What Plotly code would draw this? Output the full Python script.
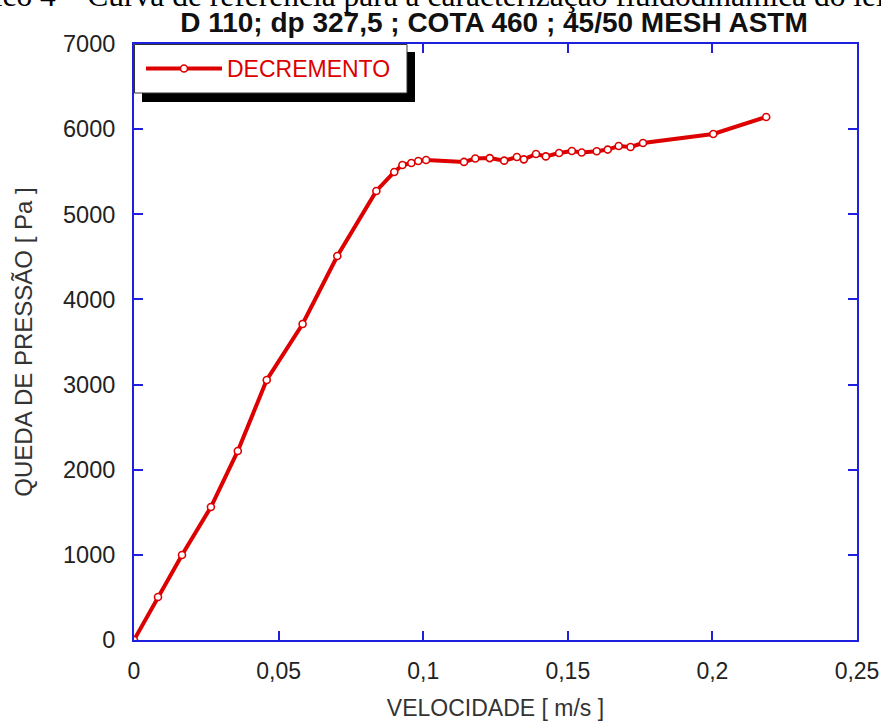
import plotly.graph_objects as go

# ---- data ----
velocidade = [0.0, 0.0083, 0.0166, 0.0266, 0.0359, 0.0459, 0.0583, 0.0703, 0.0838,
              0.0900, 0.0928, 0.0959, 0.0983, 0.1010, 0.1141, 0.1180, 0.1230, 0.1280,
              0.1324, 0.1348, 0.1390, 0.1424, 0.1470, 0.1514, 0.1548, 0.1600, 0.1638,
              0.1676, 0.1717, 0.1760, 0.2003, 0.2186]
queda_pressao = [0, 505, 998, 1562, 2220, 3054, 3711, 4510, 5274,
                 5497, 5579, 5603, 5626, 5638, 5615, 5655, 5660, 5630,
                 5673, 5645, 5708, 5680, 5720, 5743, 5725, 5740, 5760,
                 5802, 5790, 5837, 5943, 6143]
serie_nome = "DECREMENTO"
x_ticks = [0, 0.05, 0.1, 0.15, 0.2, 0.25]
y_ticks = [0, 1000, 2000, 3000, 4000, 5000, 6000, 7000]

RED = "#DD0000"
BLUE = "#1F1FE0"

W, H = 881, 724
L, R, T, B = 134, 24, 44, 84
PW, PH = W - L - R, H - T - B


def px_x(p):
    return (p - L) / PW


def px_y(p):
    return (H - B - p) / PH


fig = go.Figure()
fig.add_trace(go.Scatter(
    x=velocidade, y=queda_pressao, name=serie_nome,
    mode="lines+markers",
    line=dict(color=RED, width=4),
    marker=dict(symbol="circle", size=7, color="white",
                line=dict(color=RED, width=1.6)),
))

fig.update_layout(
    width=W, height=H,
    margin=dict(l=L, r=R, t=T, b=B, autoexpand=False),
    paper_bgcolor="white", plot_bgcolor="white",
    separators=",.",
    font=dict(family="Liberation Sans, Arial, sans-serif", color="#222222"),
    showlegend=True,
    legend=dict(x=px_x(141), y=px_y(47), xanchor="left", yanchor="top",
                bgcolor="rgba(0,0,0,0)", borderwidth=0,
                font=dict(size=23, color=RED), itemwidth=76,
                tracegroupgap=0),
    title=dict(text="<b>D 110; dp 327,5 ; COTA 460 ; 45/50 MESH ASTM</b>",
               x=494 / W, xanchor="center",
               y=1 - 22 / H, yanchor="middle",
               font=dict(size=28, color="#111111",
                         family="Liberation Sans, Arial, sans-serif")),
    xaxis=dict(range=[0, 0.25], tickvals=x_ticks,
               showline=True, linecolor=BLUE, linewidth=2, mirror="ticks",
               ticks="inside", ticklen=9, tickwidth=1.5, tickcolor=BLUE,
               showgrid=False, zeroline=False,
               tickfont=dict(size=23, color="#222222"),
               ticklabelstandoff=9,
               title=dict(text="VELOCIDADE [ m/s ]", standoff=17,
                          font=dict(size=23, color="#333333"))),
    yaxis=dict(range=[0, 7000], tickvals=y_ticks, tickformat="d",
               showline=True, linecolor=BLUE, linewidth=2, mirror="ticks",
               ticks="inside", ticklen=9, tickwidth=1.5, tickcolor=BLUE,
               showgrid=False, zeroline=False,
               tickfont=dict(size=23.5, color="#222222"),
               ticklabelstandoff=12,
               title=dict(text="QUEDA DE PRESSÃO [ Pa ]", standoff=24,
                          font=dict(size=24, color="#333333"))),
)

# legend box with drop shadow
fig.add_shape(type="rect", xref="paper", yref="paper", layer="above",
              x0=px_x(142), x1=px_x(415), y0=px_y(102), y1=px_y(52),
              fillcolor="black", line=dict(width=0))
fig.add_shape(type="rect", xref="paper", yref="paper", layer="above",
              x0=px_x(134.5), x1=px_x(407), y0=px_y(93), y1=px_y(44.5),
              fillcolor="white", line=dict(color="#333333", width=1))

# clipped caption of the source document at the very top
fig.add_annotation(text="Gráfico 4 – Curva de referência para a caracterização fluidodinâmica do leito",
                   xref="paper", yref="paper", x=px_x(-66), xanchor="left",
                   y=px_y(-4), yanchor="middle", showarrow=False,
                   font=dict(family="Liberation Serif, Times New Roman, serif",
                             size=31.5, color="black"))

fig.write_html("out.html", config={"displayModeBar": False},
               post_script="document.body.style.margin='0';")
